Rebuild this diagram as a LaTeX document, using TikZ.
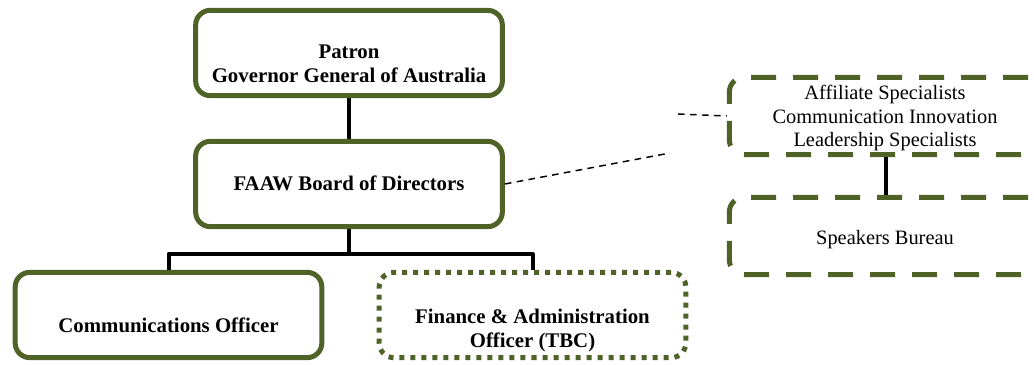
\documentclass[tikz,border=0pt]{standalone}
\usepackage{fontspec}
\setmainfont{Liberation Serif}
\usetikzlibrary{calc}
\definecolor{faawgreen}{RGB}{79,98,40}

\begin{document}
\begin{tikzpicture}[line cap=round,line join=round,x=0.75pt,y=-0.75pt]
\useasboundingbox (0,0) rectangle (1034,364);
\tikzset{
  orgbox/.style={draw=faawgreen,line width=3.75pt,rounded corners=11pt,minimum width=230pt,minimum height=64pt,inner sep=0pt},
  tbcbox/.style={orgbox,line cap=butt,dash pattern=on 3.75pt off 4.5pt},
  sidebox/.style={orgbox,line cap=butt,minimum width=235pt,minimum height=58pt,dash pattern=on 18.75pt off 12.75pt},
  boldtext/.style={align=center,font=\fontsize{15.6}{18}\selectfont\bfseries},
  plaintext/.style={align=center,font=\fontsize{15.3}{17.6}\selectfont},
  trunk/.style={line width=3pt,line cap=butt},
  link/.style={line width=1.1pt,line cap=butt,dash pattern=on 5pt off 4pt}
}
% boxes
\node[orgbox] (patron) at (349,53) {};
\node[orgbox] (board) at (349,184) {};
\node[orgbox] (comm) at (168.5,315) {};
\node[tbcbox] (finance) at (532.5,315) {};
\node[sidebox] (affil) at (886,116) {};
\node[sidebox] (speak) at (886,236) {};
% texts
\node[boldtext] (patrontext) at ($(patron)+(0,11)$) {Patron\\Governor General of Australia};
\node[boldtext] (boardtext) at ($(board)+(0,-1)$) {FAAW Board of Directors};
\node[boldtext] (commtext) at ($(comm)+(0,10)$) {Communications Officer};
\node[boldtext] (financetext) at ($(finance)+(0,15)$) {Finance \& Administration\\Officer (TBC)};
\node[plaintext] (affiltext) at ($(affil)+(-1,2)$) {Affiliate Specialists\\Communication Innovation\\Leadership Specialists};
\node[plaintext] (speaktext) at ($(speak)+(-1,4)$) {Speakers Bureau};
% connectors
\coordinate (split) at ($(board.south)+(0,24.5)$);
\draw[trunk] (patron.south) -- (board.north);
\draw[trunk] (board.south) -- (split);
\draw[trunk] (split) -| (comm.north);
\draw[trunk] (split) -| (finance.north);
\draw[trunk] (affil.south) -- (speak.north);
\coordinate (gap1) at (670,153);
\coordinate (gap2) at (678,114);
\draw[link] (board.east) -- (gap1);
\draw[link] (gap2) -- (affil.west);
\end{tikzpicture}
\end{document}
